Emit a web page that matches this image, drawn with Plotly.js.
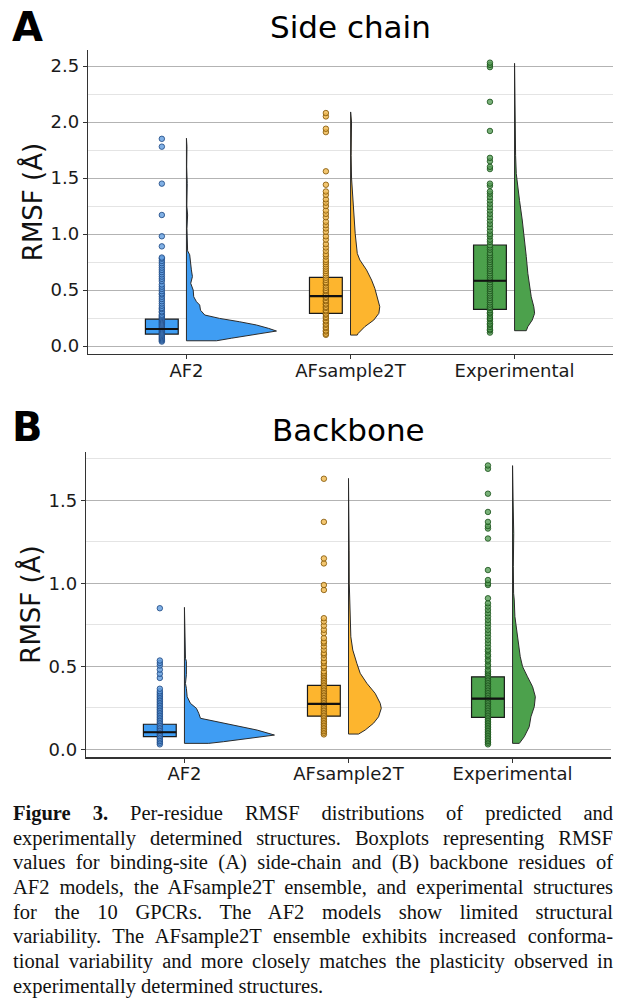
<!DOCTYPE html>
<html>
<head>
<meta charset="utf-8">
<script src="https://cdn.plot.ly/plotly-3.0.1.min.js"></script>
<style>
  html, body { margin: 0; padding: 0; background: #fff; }
  #wrap { position: relative; width: 626px; height: 1005px; overflow: hidden; }
  #chart { position: absolute; left: 0; top: 0; width: 626px; height: 1005px; }
  #caption {
    position: absolute; left: 13px; top: 801px; width: 600px;
    font-family: "Liberation Serif", "Times New Roman", serif;
    font-size: 20.5px; color: #111;
  }
  #caption .ln {
    height: 24.7px; line-height: 24.7px;
    text-align: justify; text-align-last: justify; white-space: nowrap;
  }
  #caption .ln.last { text-align-last: left; }
</style>
</head>
<body>
<div id="wrap">
  <div id="chart"></div>
  <div id="caption">
    <div class="ln"><b>Figure 3.</b> Per-residue RMSF distributions of predicted and</div>
    <div class="ln">experimentally determined structures. Boxplots representing RMSF</div>
    <div class="ln">values for binding-site (A) side-chain and (B) backbone residues of</div>
    <div class="ln">AF2 models, the AFsample2T ensemble, and experimental structures</div>
    <div class="ln">for the 10 GPCRs. The AF2 models show limited structural</div>
    <div class="ln">variability. The AFsample2T ensemble exhibits increased conforma-</div>
    <div class="ln">tional variability and more closely matches the plasticity observed in</div>
    <div class="ln last">experimentally determined structures.</div>
  </div>
</div>
<script>
// ---- categories ----
const groups = ['AF2', 'AFsample2T', 'Experimental'];

// ---- Side chain: per-residue RMSF (Å) ----
const scAF2 = [0.04,0.05,0.06,0.07,0.08,0.09,0.10,0.11,0.12,0.13,0.14,0.15,0.16,0.17,0.18,0.19,0.20,0.21,0.22,0.23,0.24,0.25,0.26,0.27,0.28,0.30,0.31,0.33,0.34,0.36,0.38,0.40,0.42,0.44,0.46,0.47,0.49,0.51,0.53,0.55,0.58,0.60,0.62,0.64,0.66,0.68,0.70,0.72,0.74,0.76,0.78,0.79,0.89,0.98,1.17,1.45,1.78,1.85];
const scAFs2T = [0.10,0.11,0.13,0.14,0.16,0.17,0.19,0.20,0.22,0.23,0.25,0.26,0.28,0.29,0.31,0.32,0.34,0.35,0.37,0.38,0.40,0.41,0.43,0.44,0.46,0.47,0.49,0.50,0.52,0.54,0.56,0.57,0.59,0.61,0.63,0.65,0.67,0.69,0.71,0.73,0.75,0.77,0.80,0.82,0.85,0.88,0.91,0.95,0.98,1.02,1.05,1.08,1.11,1.15,1.18,1.21,1.25,1.28,1.31,1.35,1.38,1.44,1.56,1.91,1.94,2.05,2.08];
const scExp = [0.12,0.14,0.15,0.17,0.19,0.20,0.22,0.24,0.25,0.27,0.29,0.30,0.32,0.34,0.35,0.37,0.39,0.41,0.43,0.45,0.47,0.49,0.51,0.53,0.55,0.57,0.59,0.61,0.63,0.65,0.67,0.69,0.71,0.73,0.75,0.77,0.79,0.81,0.83,0.86,0.88,0.90,0.93,0.95,0.98,1.00,1.03,1.06,1.09,1.12,1.15,1.18,1.21,1.24,1.27,1.30,1.33,1.36,1.38,1.43,1.45,1.58,1.60,1.65,1.68,1.92,2.18,2.49,2.51,2.53];
const scQ1 = [0.107, 0.292, 0.327];
const scMedian = [0.152, 0.446, 0.583];
const scQ3 = [0.240, 0.613, 0.902];
// density profiles (RMSF level, density)
const scAF2DensY = [0.047,0.070,0.100,0.134,0.158,0.188,0.217,0.247,0.277,0.320,0.366,0.396,0.440,0.500,0.560,0.620,0.680,0.770,0.815,0.850,0.950,1.050,1.170,1.250,1.450,1.600,1.780,1.855];
const scAF2Dens  = [2.31,3.46,5.08,6.92,6.31,5.38,4.08,2.54,1.41,1.08,1.02,0.77,0.56,0.52,0.33,0.46,0.38,0.31,0.25,0.09,0.06,0.04,0.09,0.03,0.06,0.02,0.04,0.01];
const scAFsDensY = [0.098,0.113,0.173,0.232,0.292,0.351,0.440,0.515,0.589,0.680,0.768,0.827,1.006,1.185,1.333,1.500,1.700,1.900,2.000,2.090];
const scAFsDens  = [0.52,0.59,1.10,1.79,2.18,2.25,2.05,1.87,1.62,1.23,0.72,0.52,0.36,0.25,0.21,0.08,0.05,0.05,0.08,0.01];
const scExpDensY = [0.137,0.173,0.232,0.292,0.350,0.440,0.530,0.649,0.800,0.946,1.125,1.300,1.453,1.540,1.700,1.900,2.100,2.300,2.524];
const scExpDens  = [0.90,1.02,1.36,1.54,1.48,1.28,1.15,1.02,0.90,0.77,0.59,0.38,0.25,0.13,0.08,0.06,0.05,0.04,0.01];

// ---- Backbone: per-residue RMSF (Å) ----
const bbAF2 = [0.03,0.04,0.05,0.06,0.07,0.08,0.09,0.10,0.11,0.12,0.13,0.14,0.15,0.16,0.17,0.18,0.19,0.20,0.21,0.22,0.23,0.24,0.25,0.26,0.27,0.28,0.29,0.30,0.31,0.32,0.33,0.34,0.35,0.365,0.43,0.455,0.48,0.505,0.52,0.535,0.85];
const bbAFs2T = [0.09,0.10,0.11,0.12,0.13,0.14,0.15,0.16,0.17,0.18,0.19,0.20,0.21,0.22,0.23,0.24,0.25,0.26,0.27,0.28,0.29,0.30,0.31,0.32,0.33,0.34,0.35,0.36,0.37,0.38,0.39,0.40,0.41,0.42,0.43,0.44,0.45,0.46,0.47,0.49,0.50,0.52,0.53,0.55,0.57,0.58,0.60,0.62,0.64,0.65,0.67,0.70,0.72,0.745,0.77,0.79,0.96,0.99,1.12,1.15,1.37,1.63];
const bbExp = [0.03,0.04,0.05,0.06,0.07,0.08,0.09,0.10,0.11,0.12,0.13,0.14,0.15,0.16,0.17,0.18,0.19,0.20,0.21,0.22,0.23,0.24,0.25,0.26,0.27,0.28,0.29,0.30,0.31,0.32,0.33,0.34,0.35,0.36,0.37,0.38,0.39,0.40,0.41,0.42,0.43,0.44,0.45,0.46,0.47,0.48,0.50,0.51,0.53,0.54,0.56,0.57,0.59,0.60,0.62,0.64,0.66,0.68,0.70,0.72,0.74,0.76,0.78,0.80,0.82,0.84,0.86,0.88,0.91,0.99,1.00,1.02,1.08,1.27,1.33,1.345,1.37,1.43,1.54,1.69,1.71];
const bbQ1 = [0.077, 0.200, 0.192];
const bbMedian = [0.103, 0.274, 0.306];
const bbQ3 = [0.151, 0.385, 0.437];
const bbAF2DensY = [0.036,0.046,0.066,0.086,0.116,0.146,0.172,0.187,0.217,0.247,0.277,0.317,0.367,0.397,0.450,0.500,0.530,0.548,0.650,0.750,0.855];
const bbAF2Dens  = [1.87,3.00,5.08,6.92,5.59,3.77,2.00,1.23,1.10,0.92,0.46,0.21,0.15,0.08,0.15,0.18,0.15,0.08,0.04,0.03,0.01];
const bbAFsDensY = [0.092,0.116,0.157,0.196,0.247,0.277,0.337,0.398,0.458,0.518,0.598,0.678,0.799,0.839,1.000,1.200,1.400,1.632];
const bbAFsDens  = [0.77,1.28,1.92,2.31,2.52,2.44,2.05,1.41,0.90,0.64,0.33,0.18,0.13,0.08,0.06,0.05,0.03,0.01];
const bbExpDensY = [0.036,0.076,0.136,0.196,0.257,0.317,0.377,0.437,0.498,0.558,0.678,0.800,0.900,0.940,1.100,1.300,1.500,1.709];
const bbExpDens  = [0.52,0.90,1.28,1.41,1.67,1.75,1.54,1.15,0.77,0.59,0.38,0.18,0.13,0.08,0.06,0.09,0.04,0.01];

// ---- styling ----
const fillColors = ['#3F9DF3', '#FDB52E', '#4CA14C'];
const pointFill  = ['rgba(96,156,222,0.8)', 'rgba(240,186,80,0.82)', 'rgba(88,158,88,0.8)'];
const pointEdge  = ['#1a4580', '#7f5200', '#174f17'];
const BOX_OFFSET = -0.15;   // box + points sit left of the category tick
const BOX_WIDTH = 0.2;
const DENS_SCALE = 0.0793;  // category units per unit of density
const FONT = 'DejaVu Sans, sans-serif';

function panelTraces(values, q1, med, q3, densY, dens, xa, ya) {
  const traces = [];
  groups.forEach((g, i) => {
    const bx = i + BOX_OFFSET;
    // half violin to the right of the tick
    const vx = [i].concat(dens[i].map(d => i + d * DENS_SCALE), [i, i]);
    const vy = [densY[i][0]].concat(densY[i], [densY[i][densY[i].length - 1], densY[i][0]]);
    traces.push({
      type: 'scatter', mode: 'lines', x: vx, y: vy, fill: 'toself',
      fillcolor: fillColors[i], line: { color: '#2b2b2b', width: 1 },
      xaxis: xa, yaxis: ya, hoverinfo: 'skip', showlegend: false
    });
    // box without whiskers
    traces.push({
      type: 'box', x: [bx], q1: [q1[i]], median: [med[i]], q3: [q3[i]],
      lowerfence: [q1[i]], upperfence: [q3[i]], width: BOX_WIDTH,
      fillcolor: fillColors[i], line: { color: '#1a1a1a', width: 1.2 },
      boxpoints: false, xaxis: xa, yaxis: ya, hoverinfo: 'skip', showlegend: false
    });
    // residue points
    traces.push({
      type: 'scatter', mode: 'markers', x: values[i].map(() => bx), y: values[i],
      marker: { size: 5.5, color: pointFill[i], line: { color: pointEdge[i], width: 0.8 } },
      xaxis: xa, yaxis: ya, hoverinfo: 'skip', showlegend: false
    });
    // median bar drawn over the points
    traces.push({
      type: 'scatter', mode: 'lines',
      x: [bx - BOX_WIDTH / 2, bx + BOX_WIDTH / 2], y: [med[i], med[i]],
      line: { color: '#111', width: 2.2 },
      xaxis: xa, yaxis: ya, hoverinfo: 'skip', showlegend: false
    });
  });
  return traces;
}

const data = [].concat(
  panelTraces([scAF2, scAFs2T, scExp], scQ1, scMedian, scQ3,
              [scAF2DensY, scAFsDensY, scExpDensY], [scAF2Dens, scAFsDens, scExpDens], 'x', 'y'),
  panelTraces([bbAF2, bbAFs2T, bbExp], bbQ1, bbMedian, bbQ3,
              [bbAF2DensY, bbAFsDensY, bbExpDensY], [bbAF2Dens, bbAFsDens, bbExpDens], 'x2', 'y2')
);

function xAxis(domain, anchor) {
  return {
    domain: domain, anchor: anchor, range: [-0.6, 2.6],
    tickmode: 'array', tickvals: [0, 1, 2], ticktext: groups,
    showline: true, linecolor: '#333', linewidth: 1.3,
    ticks: 'outside', ticklen: 4, tickcolor: '#333', tickwidth: 1,
    ticklabelstandoff: -4,
    showgrid: false, zeroline: false,
    tickfont: { family: FONT, size: 18, color: '#1a1a1a' }
  };
}
function yAxis(domain, anchor, range) {
  return {
    domain: domain, anchor: anchor, range: range,
    tickmode: 'linear', tick0: 0, dtick: 0.5, tickformat: '.1f',
    showline: true, linecolor: '#333', linewidth: 1.3,
    ticks: 'outside', ticklen: 4, tickcolor: '#333', tickwidth: 1,
    showgrid: true, gridcolor: '#b3b3b3', gridwidth: 1, zeroline: false,
    minor: { tick0: 0, dtick: 0.25, showgrid: true, gridcolor: '#e4e4e4', gridwidth: 1, ticks: '' },
    tickfont: { family: FONT, size: 18, color: '#1a1a1a' },
    title: { text: 'RMSF (Å)', font: { family: FONT, size: 26, color: '#111' }, standoff: 0 }
  };
}

const layout = {
  width: 626, height: 1005,
  margin: { l: 0, r: 0, t: 0, b: 0 },
  paper_bgcolor: '#fff', plot_bgcolor: '#fff',
  hovermode: false, showlegend: false,
  font: { family: FONT, color: '#111' },
  xaxis: xAxis([88 / 626, 613 / 626], 'y'),
  yaxis: yAxis([1 - 354 / 1005, 1 - 50 / 1005], 'x', [-0.071, 2.643]),
  xaxis2: xAxis([86 / 626, 611 / 626], 'y2'),
  yaxis2: yAxis([1 - 757.3 / 1005, 1 - 451.7 / 1005], 'x2', [-0.048, 1.793]),
  annotations: [
    { text: 'A', xref: 'paper', yref: 'paper', x: 27.5 / 626, y: 1 - 27 / 1005,
      xanchor: 'center', yanchor: 'middle', showarrow: false,
      font: { family: FONT, size: 40, color: '#000', weight: 'bold' } },
    { text: 'Side chain', xref: 'paper', yref: 'paper', x: 350.5 / 626, y: 1 - 27 / 1005,
      xanchor: 'center', yanchor: 'middle', showarrow: false,
      font: { family: FONT, size: 31, color: '#000' } },
    { text: 'B', xref: 'paper', yref: 'paper', x: 27.5 / 626, y: 1 - 427 / 1005,
      xanchor: 'center', yanchor: 'middle', showarrow: false,
      font: { family: FONT, size: 40, color: '#000', weight: 'bold' } },
    { text: 'Backbone', xref: 'paper', yref: 'paper', x: 348.5 / 626, y: 1 - 430 / 1005,
      xanchor: 'center', yanchor: 'middle', showarrow: false,
      font: { family: FONT, size: 31, color: '#000' } }
  ]
};

Plotly.newPlot('chart', data, layout, { staticPlot: true, displayModeBar: false });
</script>
</body>
</html>
